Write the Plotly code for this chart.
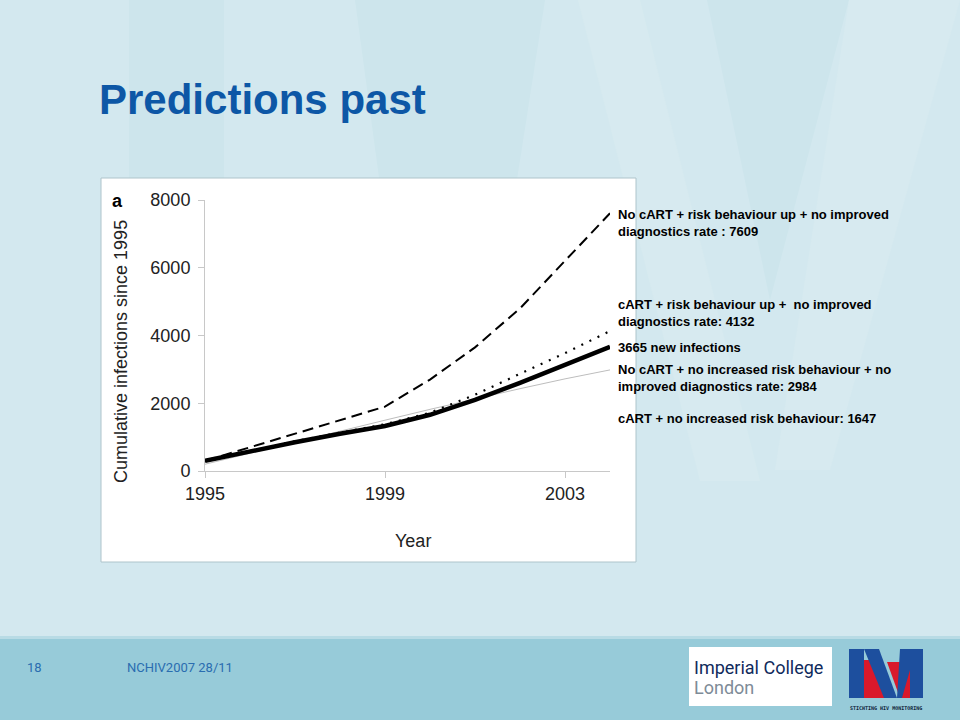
import plotly.graph_objects as go

# ---------------- data ----------------
years = [1995, 1996, 1997, 1998, 1999, 2000, 2001, 2002, 2003, 2004]
no_cart_risk_up = [300, 700, 1100, 1500, 1900, 2700, 3650, 4800, 6200, 7609]
cart_risk_up = [300, 600, 880, 1130, 1380, 1720, 2250, 2870, 3480, 4132]
observed = [300, 580, 850, 1100, 1330, 1660, 2100, 2600, 3130, 3665]
no_cart_no_risk = [200, 530, 860, 1180, 1500, 1820, 2130, 2430, 2720, 2984]

x_ticks = [1995, 1999, 2003]
y_ticks = [0, 2000, 4000, 6000, 8000]

label_texts = [
    "No cART + risk behaviour up + no improved<br>diagnostics rate : 7609",
    "cART + risk behaviour up +  no improved<br>diagnostics rate: 4132",
    "3665 new infections",
    "No cART + no increased risk behaviour + no<br>improved diagnostics rate: 2984",
    "cART + no increased risk behaviour: 1647",
]
label_y_px = [222.5, 313, 347, 378, 418]

title_text = "Predictions past"
y_title = "Cumulative infections since 1995"
x_title = "Year"
footer_page = "18"
footer_text = "NCHIV2007 28/11"

# ---------------- helpers ----------------
W, H = 960, 720


def px(x):
    return x / W


def py(y):
    return 1 - y / H


BG = "#d3e8ef"
BG_DARK = "#cde5ec"
BG_LIGHT = "#d7eaf0"
FOOT = "#97cbd9"
FONT = "Liberation Sans, Arial, sans-serif"
NARROW = "Liberation Sans Narrow, Arial Narrow, Roboto, sans-serif"

fig = go.Figure()

fig.add_trace(go.Scatter(x=years, y=no_cart_no_risk, mode="lines",
                         line=dict(color="#bdbdbd", width=1), hoverinfo="skip"))
fig.add_trace(go.Scatter(x=years, y=no_cart_risk_up, mode="lines",
                         line=dict(color="black", width=2, dash="11px,6px"), hoverinfo="skip"))
fig.add_trace(go.Scatter(x=years, y=cart_risk_up, mode="lines",
                         line=dict(color="black", width=2.2, dash="2px,7px"), hoverinfo="skip"))
fig.add_trace(go.Scatter(x=years, y=observed, mode="lines",
                         line=dict(color="black", width=4.5), hoverinfo="skip"))

shapes = []


def rect(x0, y0, x1, y1, fill, line=None, layer="below"):
    shapes.append(dict(type="rect", xref="paper", yref="paper",
                       x0=px(x0), x1=px(x1), y0=py(y1), y1=py(y0),
                       fillcolor=fill, line=dict(width=0) if line is None else line,
                       layer=layer))


def poly(points, fill, layer="below"):
    path = "M " + " L ".join(f"{px(a)},{py(b)}" for a, b in points) + " Z"
    shapes.append(dict(type="path", xref="paper", yref="paper", path=path,
                       fillcolor=fill, line=dict(width=0), layer=layer))


# background watermark (subtle)
rect(129, 0, 224, 481, BG_DARK)
poly([(355, 0), (545, 0), (470, 481), (420, 481)], BG_DARK)
poly([(578, 0), (640, 0), (760, 481), (700, 481)], BG_LIGHT)
poly([(707, 0), (849, 0), (770, 300)], BG_DARK)
poly([(849, 0), (960, 0), (830, 470), (775, 470)], BG_LIGHT)
# footer
rect(0, 636, 960, 639, "#b8dbe5")
rect(0, 639, 960, 720, FOOT)
# chart panel
rect(101, 178, 636, 562, "white", line=dict(color="#aec4cb", width=1))
# Imperial logo box
rect(689, 647, 832, 706, "white", layer="above")
# HIV monitoring logo
BLUE = "#1d4f9e"
RED = "#d9192b"
rect(849, 649, 864, 698, BLUE, layer="above")
poly([(864, 660), (876, 660), (886, 698), (864, 698)], RED, layer="above")
poly([(864, 649), (879, 649), (897, 698), (884, 698)], BLUE, layer="above")
poly([(887, 662), (912, 662), (912, 698), (900, 698)], RED, layer="above")
poly([(900, 649), (923, 649), (923, 698), (910, 698), (910, 670), (902, 698), (897, 698)], BLUE, layer="above")

annotations = []


def text(x, y, s, size, color="black", bold=False, xanchor="left", yanchor="middle",
         angle=0, family=FONT, align="left"):
    if bold:
        s = f"<b>{s}</b>"
    annotations.append(dict(x=px(x), y=py(y), xref="paper", yref="paper", text=s,
                            showarrow=False, xanchor=xanchor, yanchor=yanchor,
                            textangle=angle, align=align,
                            font=dict(size=size, color=color, family=family)))


text(97, 100, title_text, 42, color="#0d57a6", bold=True)
text(117, 201, "a", 18, bold=True, xanchor="center")
text(121, 352, y_title, 18, color="#222222", xanchor="center", angle=-90)
text(413, 541, x_title, 18, color="#222222", xanchor="center")
for t, yy in zip(label_texts, label_y_px):
    text(616, yy, t, 13, bold=True)
text(25, 667, footer_page, 13, color="#2a6db0", family=NARROW)
text(125, 667, footer_text, 13, color="#2a6db0", family=NARROW)
text(692, 667, "Imperial College", 18, color="#102a5c", family=NARROW)
text(692, 687, "London", 18, color="#7e8b97", family=NARROW)
text(886, 708, "STICHTING HIV MONITORING", 5, color="#0d1d3a", bold=True,
     xanchor="center", family="DejaVu Sans Mono, monospace")

fig.update_layout(
    width=W, height=H,
    margin=dict(l=0, r=0, t=0, b=0, pad=0, autoexpand=False),
    paper_bgcolor=BG,
    plot_bgcolor="rgba(0,0,0,0)",
    showlegend=False,
    shapes=shapes,
    annotations=annotations,
    xaxis=dict(domain=[px(205), px(610)], range=[1995, 2004],
               tickvals=x_ticks, ticktext=[str(v) for v in x_ticks],
               showgrid=False, zeroline=False, showline=True,
               linecolor="#c8c8c8", linewidth=1, automargin=False,
               ticks="outside", ticklen=6, tickcolor="#c8c8c8",
               tickfont=dict(size=18, color="#222222", family=FONT)),
    yaxis=dict(domain=[py(471), py(200)], range=[0, 8000],
               tickvals=y_ticks, ticktext=[str(v) for v in y_ticks],
               showgrid=False, zeroline=False, showline=True,
               linecolor="#c8c8c8", linewidth=1, automargin=False,
               ticks="outside", ticklen=6, tickcolor="#c8c8c8",
               ticklabelstandoff=4,
               tickfont=dict(size=18, color="#222222", family=FONT)),
)

fig.write_html("out.html", config={"displayModeBar": False},
               post_script="document.body.style.margin='0';")
